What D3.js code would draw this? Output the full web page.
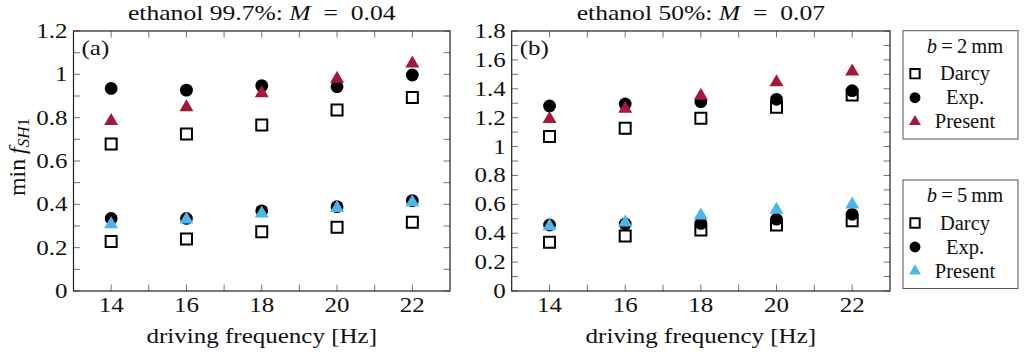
<!DOCTYPE html>
<html>
<head>
<meta charset="utf-8">
<script src="https://cdn.jsdelivr.net/npm/d3@7"></script>
</head>
<body style="margin:0; background:#fff">
<div id="chart"></div>
<script>
const freqs = [14, 16, 18, 20, 22];
const xTicks = [14, 16, 18, 20, 22];

// panel (a): ethanol 99.7%
const aDarcy2 = [0.678, 0.725, 0.766, 0.835, 0.893];
const aExp2 = [0.935, 0.927, 0.948, 0.943, 0.997];
const aPresent2 = [0.785, 0.848, 0.913, 0.98, 1.05];
const aDarcy5 = [0.228, 0.24, 0.274, 0.294, 0.317];
const aExp5 = [0.335, 0.335, 0.37, 0.389, 0.417];
const aPresent5 = [0.308, 0.33, 0.358, 0.383, 0.41];

// panel (b): ethanol 50%
const bDarcy2 = [1.069, 1.127, 1.196, 1.272, 1.357];
const bExp2 = [1.281, 1.295, 1.311, 1.327, 1.387];
const bPresent2 = [1.19, 1.262, 1.352, 1.445, 1.52];
const bDarcy5 = [0.337, 0.381, 0.422, 0.457, 0.487];
const bExp5 = [0.457, 0.464, 0.468, 0.497, 0.531];
const bPresent5 = [0.448, 0.475, 0.522, 0.562, 0.598];

const red = '#A3193B';
const blue = '#4DB6E8';
const FONT = 'Liberation Serif';
const fs = 20.5;
const sx = 1.22; // the plot text in the picture is a little wide

const svg = d3.select('#chart').append('svg')
  .attr('width', 1027)
  .attr('height', 355);

function txt(sel, size) {
  return sel.append('text').attr('font-family', FONT).attr('font-size', size).attr('fill', '#111');
}
// wide text, anchored at (x, y)
function wtxt(sel, size, x, y) {
  return txt(sel, size).attr('transform', `translate(${x},${y}) scale(${sx},1)`);
}

function drawPanel(opt) {
  const x = d3.scaleLinear().domain([13, 23]).range([opt.left, opt.right]);
  const y = d3.scaleLinear().domain([0, opt.ymax]).range([291, 31]);
  const g = svg.append('g');

  // ticks (inward, on all four sides)
  const yMajor = d3.range(0, opt.ymax + 1e-9, 0.2);
  const yMinor = d3.range(0.1, opt.ymax, 0.2);
  const xMinor = [15, 17, 19, 21];
  const tk = g.append('g').attr('stroke', '#666').attr('stroke-width', 0.9);
  const L = 6.5;
  yMajor.concat(yMinor).forEach(v => {
    tk.append('line').attr('x1', x(13)).attr('x2', x(13) + L).attr('y1', y(v)).attr('y2', y(v));
    tk.append('line').attr('x1', x(23)).attr('x2', x(23) - L).attr('y1', y(v)).attr('y2', y(v));
  });
  xTicks.concat(xMinor).forEach(v => {
    tk.append('line').attr('x1', x(v)).attr('x2', x(v)).attr('y1', y(0)).attr('y2', y(0) - L);
    tk.append('line').attr('x1', x(v)).attr('x2', x(v)).attr('y1', y(opt.ymax)).attr('y2', y(opt.ymax) + L);
  });

  g.append('rect')
    .attr('x', x(13)).attr('y', y(opt.ymax))
    .attr('width', x(23) - x(13)).attr('height', y(0) - y(opt.ymax))
    .attr('fill', 'none').attr('stroke', '#222').attr('stroke-width', 1.2);

  // tick labels
  const fmt = d3.format('~g');
  yMajor.forEach(v => {
    wtxt(g, fs, x(13) - 6, y(v)).attr('dy', '0.34em')
      .attr('text-anchor', 'end').text(fmt(+v.toFixed(1)));
  });
  xTicks.forEach(v => {
    wtxt(g, fs, x(v), 312).attr('text-anchor', 'middle').text(v);
  });

  // axis label
  wtxt(g, fs, (opt.left + opt.right) / 2, 343)
    .attr('text-anchor', 'middle').text('driving frequency [Hz]');

  // title
  const t = wtxt(g, 21, (opt.left + opt.right) / 2, 20).attr('text-anchor', 'middle');
  t.append('tspan').text(opt.title + ' ');
  t.append('tspan').attr('font-style', 'italic').text('M');
  t.append('tspan').text('\u2002=\u2002' + opt.M);

  wtxt(g, fs, opt.left + 8, 55).text(opt.tag);

  // marks
  const series = [
    { vals: opt.d2, type: 'square', color: '#000' },
    { vals: opt.e2, type: 'circle', color: '#000' },
    { vals: opt.p2, type: 'triangle', color: red },
    { vals: opt.d5, type: 'square', color: '#000' },
    { vals: opt.e5, type: 'circle', color: '#000' },
    { vals: opt.p5, type: 'triangle', color: blue }
  ];
  series.forEach(s => {
    g.append('g').selectAll('path').data(s.vals).enter().append('path')
      .attr('transform', (d, i) => `translate(${x(freqs[i])},${y(d)})`)
      .attr('d', markerPath(s.type))
      .attr('fill', s.type === 'square' ? 'none' : s.color)
      .attr('stroke', s.type === 'square' ? '#000' : 'none')
      .attr('stroke-width', 2);
  });
}

function markerPath(type) {
  if (type === 'square') return 'M-5.5,-5.5H5.5V5.5H-5.5Z';
  if (type === 'circle') return d3.symbol(d3.symbolCircle, Math.PI * 6.4 * 6.4)();
  return 'M0,-8L7,4H-7Z';
}

drawPanel({ left: 73.5, right: 450, ymax: 1.2, title: 'ethanol 99.7%:', M: '0.04', tag: '(a)',
  d2: aDarcy2, e2: aExp2, p2: aPresent2, d5: aDarcy5, e5: aExp5, p5: aPresent5 });
drawPanel({ left: 511.7, right: 890, ymax: 1.8, title: 'ethanol 50%:', M: '0.07', tag: '(b)',
  d2: bDarcy2, e2: bExp2, p2: bPresent2, d5: bDarcy5, e5: bExp5, p5: bPresent5 });

// y label
const yl = txt(svg, 24).attr('transform', 'translate(25,157) rotate(-90)')
  .attr('text-anchor', 'middle');
yl.append('tspan').text('min\u2009');
yl.append('tspan').attr('font-style', 'italic').text('f');
yl.append('tspan').attr('font-style', 'italic').attr('font-size', 17).attr('dy', 4).text('SH');
yl.append('tspan').attr('font-size', 17).text('1');

// legends
const legendNames = ['Darcy', 'Exp.', 'Present'];
function drawLegend(top, bottom, bval, color) {
  const g = svg.append('g');
  g.append('rect').attr('x', 903).attr('y', top).attr('width', 115).attr('height', bottom - top)
    .attr('fill', '#fff').attr('stroke', '#555').attr('stroke-width', 1);
  const t = txt(g, 20.5).attr('x', 965).attr('y', top + 22).attr('text-anchor', 'middle');
  t.append('tspan').attr('font-style', 'italic').text('b');
  t.append('tspan').text('\u2009=\u2009' + bval + '\u2009mm');
  const types = ['square', 'circle', 'triangle'];
  const colors = ['#000', '#000', color];
  legendNames.forEach((n, i) => {
    const cy = top + 43 + i * 24;
    g.append('path').attr('transform', `translate(915,${cy}) scale(0.85)`)
      .attr('d', markerPath(types[i]))
      .attr('fill', types[i] === 'square' ? 'none' : colors[i])
      .attr('stroke', types[i] === 'square' ? '#000' : 'none')
      .attr('stroke-width', 2.3);
    txt(g, 20.5).attr('x', 965).attr('y', cy).attr('dy', '0.33em').attr('text-anchor', 'middle').text(n);
  });
}
drawLegend(30.7, 139, '2', red);
drawLegend(180, 288.5, '5', blue);
</script>
</body>
</html>
